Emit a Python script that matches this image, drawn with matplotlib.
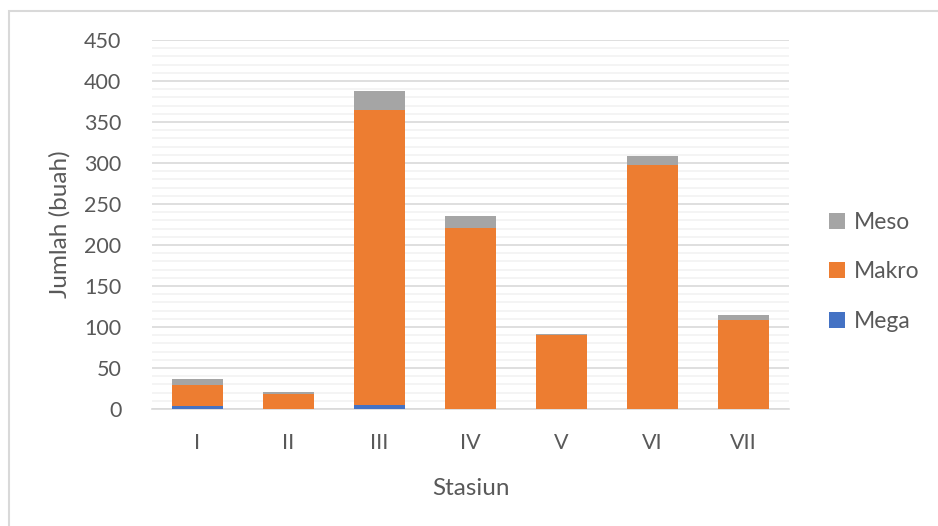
import matplotlib.pyplot as plt
from matplotlib.patches import Rectangle
import numpy as np

stasiun = ["I", "II", "III", "IV", "V", "VI", "VII"]
mega = [4, 0, 5, 0, 0, 0, 0]
makro = [25, 18, 360, 221, 90, 297, 108]
meso = [7, 3, 23, 14, 1, 11, 7]

FONT = "Lato"
TXT = "#595959"

fig = plt.figure(figsize=(9.38, 5.26), dpi=100)
ax = fig.add_axes([152/938, 117/526, 637/938, 369/526])

# chart border (Excel-style frame)
fig.patches.append(Rectangle((9/938, -0.1), 1.2, 1.1 - 11/526, transform=fig.transFigure,
                             fill=False, edgecolor="#D9D9D9", linewidth=1.5))

x = np.arange(len(stasiun))
w = 0.57
mega = np.array(mega)
makro = np.array(makro)
meso = np.array(meso)

b1 = ax.bar(x, mega, w, color="#4472C4", zorder=3)
b2 = ax.bar(x, makro, w, bottom=mega, color="#ED7D31", zorder=3)
b3 = ax.bar(x, meso, w, bottom=mega+makro, color="#A5A5A5", zorder=3)

ax.set_xlim(-0.5, len(stasiun)-0.5)
ax.set_ylim(0, 450)
ax.set_yticks(np.arange(0, 451, 50))
ax.set_yticks(np.arange(0, 451, 10), minor=True)
ax.grid(axis="y", which="major", color="#D9D9D9", linewidth=1.2, zorder=0)
ax.grid(axis="y", which="minor", color="#F2F2F2", linewidth=1.2, zorder=0)
ax.set_xticks(x)
ax.set_xticklabels(stasiun)
ax.tick_params(axis="both", which="both", length=0, labelsize=15.5, labelcolor=TXT)
ax.tick_params(axis="y", pad=22)
ax.tick_params(axis="x", pad=17)
for lab in ax.get_xticklabels() + ax.get_yticklabels():
    lab.set_fontfamily(FONT)
for s in ["top", "right", "left"]:
    ax.spines[s].set_visible(False)
ax.spines["bottom"].set_color("#D9D9D9")
ax.spines["bottom"].set_linewidth(1.2)

ax.set_ylabel("Jumlah (buah)", fontsize=17.5, color=TXT, family=FONT, labelpad=10)
ax.set_xlabel("Stasiun", fontsize=17.5, color=TXT, family=FONT, labelpad=18)

fig.legend([b3, b2, b1], ["Meso", "Makro", "Mega"], loc="center left",
           bbox_to_anchor=(808/938, 1 - 272/526), frameon=False,
           prop={"family": FONT, "size": 16.5}, labelcolor=TXT,
           handlelength=0.7, handleheight=0.7, handletextpad=0.4, labelspacing=1.25)

fig.savefig("out.png", dpi=100, facecolor="white")
